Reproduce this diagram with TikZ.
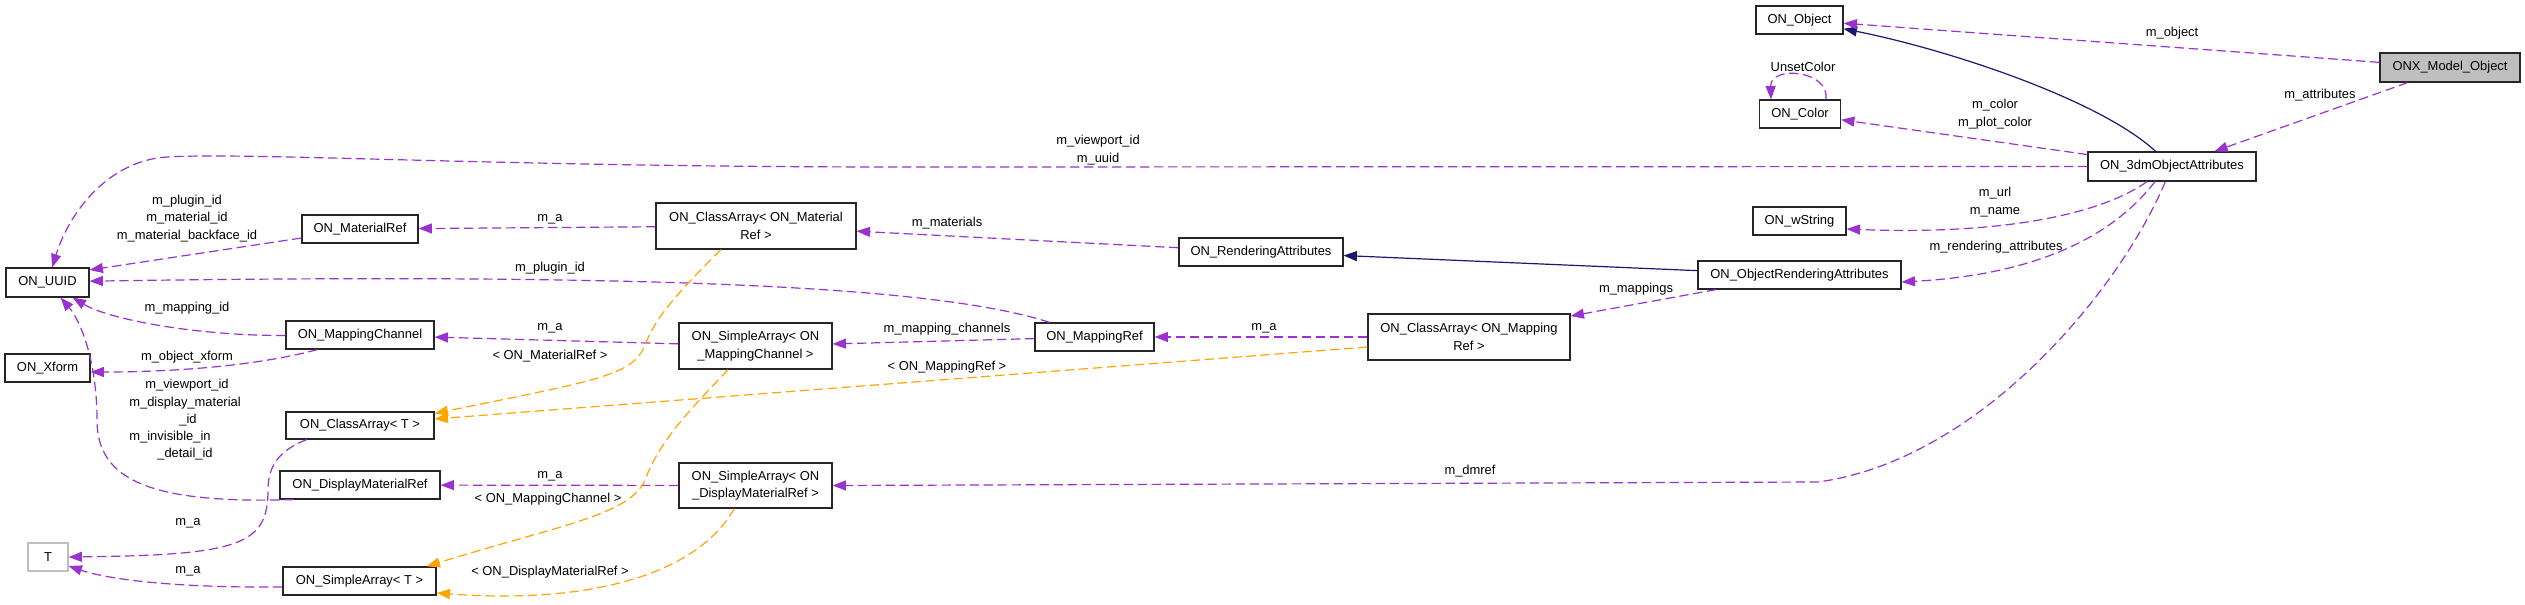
\documentclass[tikz,border=0pt]{standalone}
\usepackage{fontspec}
\setmainfont{Liberation Sans}
\usetikzlibrary{arrows.meta}
\definecolor{depc}{HTML}{9A32CD}
\definecolor{tmplc}{HTML}{FFA500}
\definecolor{inhc}{HTML}{191970}
\definecolor{grayfill}{HTML}{BFBFBF}
\begin{document}
\begin{tikzpicture}[x=0.75pt,y=-0.75pt,
  box/.style={draw=black!85, line width=0.9pt, fill=white, inner sep=0pt, align=center,
    font=\fontsize{9.7pt}{13pt}\selectfont},
  sz/.style 2 args={minimum width=#1*0.75pt, minimum height=#2*0.75pt},
  lbl/.style={inner sep=0pt, align=center, font=\fontsize{9.7pt}{13pt}\selectfont},
  tipend/.style={-{Triangle[length=10pt,width=7.5pt]}},
  depe/.style={tipend, draw=depc, line width=0.9pt, dash pattern=on 7pt off 3.5pt},
  tmple/.style={tipend, draw=tmplc, line width=0.9pt, dash pattern=on 7pt off 3.5pt},
  inhe/.style={tipend, draw=inhc, line width=0.9pt}]
\fill[white] (0,0) rectangle (2525,604);
\useasboundingbox (0,0) rectangle (2525,604);

% nodes
\node[box, sz={87}{28}] (obj) at (1799.5,20) {ON\_Object};
\node[box, sz={81}{28}] (color) at (1800,114) {ON\_Color};
\node[box, sz={140}{29}, fill=grayfill] (onx) at (2450,67.5) {ONX\_Model\_Object};
\node[box, sz={168}{29}] (attr) at (2172,166.5) {ON\_3dmObjectAttributes};
\node[box, sz={93}{28}] (wstr) at (1799.5,221) {ON\_wString};
\node[box, sz={203}{28}] (ora) at (1799.5,275) {ON\_ObjectRenderingAttributes};
\node[box, sz={164}{28}] (ra) at (1261,252) {ON\_RenderingAttributes};
\node[box, sz={202}{46}] (camr) at (1469,337) {ON\_ClassArray< ON\_Mapping\\Ref >};
\node[box, sz={119}{28}] (mref) at (1094.5,337) {ON\_MappingRef};
\node[box, sz={200}{46}] (camat) at (756,226) {ON\_ClassArray< ON\_Material\\Ref >};
\node[box, sz={153}{46}] (samc) at (755.5,346) {ON\_SimpleArray< ON\\\_MappingChannel >};
\node[box, sz={153}{45}] (sadm) at (755.5,485.5) {ON\_SimpleArray< ON\\\_DisplayMaterialRef >};
\node[box, sz={116}{28}] (matref) at (360,229) {ON\_MaterialRef};
\node[box, sz={148}{28}] (mch) at (360,335) {ON\_MappingChannel};
\node[box, sz={148}{27}] (cat) at (360,425.5) {ON\_ClassArray< T >};
\node[box, sz={160}{28}] (dmr) at (360,485) {ON\_DisplayMaterialRef};
\node[box, sz={153}{28}] (sat) at (359.5,581) {ON\_SimpleArray< T >};
\node[box, sz={83}{29}] (uuid) at (47.5,282.5) {ON\_UUID};
\node[box, sz={85}{28}] (xform) at (47.5,368) {ON\_Xform};
\node[box, sz={40}{28}, draw=grayfill] (t) at (48,557) {T};

% inheritance
\draw[inhe] (attr) .. controls (2100,100) and (1950,50) .. (obj);
\draw[inhe] (ora) -- (ra);

% usage
\draw[depe] (onx) -- (obj);
\draw[depe] (onx) -- (attr);
\draw[depe] ([xshift=19.5pt]color.north) .. controls (1830,70) and (1770,65) .. ([xshift=-21.75pt]color.north);
\draw[depe] (attr) -- (color);
\draw[depe] (attr.west) -- (900,167) .. controls (500,167) and (250,152) .. (167,157) .. controls (110,160.4) and (70,210) .. (uuid);
\draw[depe] ([yshift=-6.75pt]matref.west) -- ([yshift=9.4pt]uuid.east);
\draw[depe] (mref) .. controls (950,290) and (700,272) .. ([yshift=1pt]uuid.east);
\draw[depe] (mch) .. controls (200,336) and (110,320) .. (uuid);
\draw[depe] ([xshift=-32pt]mch.south) .. controls (260,365) and (180,372) .. ([yshift=-3pt]xform.east);
\draw[depe] ([xshift=-50pt]dmr.south) .. controls (150,504) and (97,480) .. (97,420) .. controls (97,360) and (80,320) .. (uuid);
\draw[depe] ([xshift=-40pt]cat.south) .. controls (280,450) and (268,465) .. (268,490) .. controls (268,545) and (240,555) .. (t.east);
\draw[depe] ([yshift=-4.5pt]sat.west) .. controls (180,588) and (110,580) .. ([yshift=-6.75pt]t.east);
\draw[depe] (camat) -- (matref);
\draw[depe] (samc) -- (mch);
\draw[depe] (sadm) -- (dmr);
\draw[depe] (camr) -- (mref);
\draw[depe] (mref) -- (samc);
\draw[depe] (ra) -- (camat);
\draw[depe] ([xshift=14pt]ora.south west) -- ([yshift=-2pt]camr.north east);
\draw[depe] ([xshift=-18.75pt]attr.south) .. controls (2100,215) and (2000,235) .. ([yshift=-6pt]wstr.east);
\draw[depe] ([xshift=-12.75pt]attr.south) .. controls (2110,240) and (2030,275) .. ([yshift=-5.25pt]ora.east);
\draw[depe] ([xshift=-5pt]attr.south) .. controls (2120,290) and (1980,460) .. (1818,482) -- (sadm.east);

% template instances
\draw[tmple] ([xshift=-26.25pt]camat.south) .. controls (670,300) and (655,320) .. (645,345) .. controls (633,375) and (600,380) .. ([yshift=-1.5pt]cat.north east);
\draw[tmple] ([xshift=-20.6pt]samc.south) .. controls (690,410) and (660,440) .. (645,480) .. controls (630,515) and (560,525) .. ([xshift=-7.5pt]sat.north east);
\draw[tmple] ([xshift=-16pt]sadm.south) .. controls (700,570) and (600,605) .. ([yshift=-9pt]sat.east);
\draw[tmple] ([yshift=-7.5pt]camr.west) -- ([yshift=4.9pt]cat.east);

% labels
\node[lbl] (lobj) at (2172,33) {m\_object};
\node[lbl] (lattr) at (2320,95) {m\_attributes};
\node[lbl] (lunset) at (1803,67) {UnsetColor};
\node[lbl] (lcolor) at (1995,114) {m\_color\\m\_plot\_color};
\node[lbl] (luuid) at (1098,150) {m\_viewport\_id\\m\_uuid};
\node[lbl] (lmat) at (187,218.5) {m\_plugin\_id\\m\_material\_id\\m\_material\_backface\_id};
\node[lbl] (lplug) at (550,268) {m\_plugin\_id};
\node[lbl] (lmapid) at (187,308) {m\_mapping\_id};
\node[lbl] (lxf) at (187,357) {m\_object\_xform};
\node[lbl] (ldm1) at (187,385) {m\_viewport\_id};
\node[lbl] (ldm2) at (185,403) {m\_display\_material};
\node[lbl] (ldm3) at (188,420) {\_id};
\node[lbl] (ldm4) at (170,437) {m\_invisible\_in};
\node[lbl] (ldm5) at (185,454) {\_detail\_id};
\node[lbl] (lta) at (188,523) {m\_a};
\node[lbl] (ltb) at (188,571) {m\_a};
\node[lbl] (lmata) at (550,219) {m\_a};
\node[lbl] (ltmat) at (550,356) {< ON\_MaterialRef >};
\node[lbl] (lmcha) at (550,328) {m\_a};
\node[lbl] (ltmch) at (548,499) {< ON\_MappingChannel >};
\node[lbl] (ldmra) at (550,476) {m\_a};
\node[lbl] (ltdmr) at (550,572) {< ON\_DisplayMaterialRef >};
\node[lbl] (ltmr) at (947,367) {< ON\_MappingRef >};
\node[lbl] (lmra) at (1264,328) {m\_a};
\node[lbl] (lmchs) at (947,329) {m\_mapping\_channels};
\node[lbl] (lmats) at (947,223) {m\_materials};
\node[lbl] (lmaps) at (1636,289) {m\_mappings};
\node[lbl] (lurl) at (1995,202) {m\_url\\m\_name};
\node[lbl] (lrend) at (1996,247) {m\_rendering\_attributes};
\node[lbl] (ldmref) at (1470,471) {m\_dmref};
\end{tikzpicture}
\end{document}
